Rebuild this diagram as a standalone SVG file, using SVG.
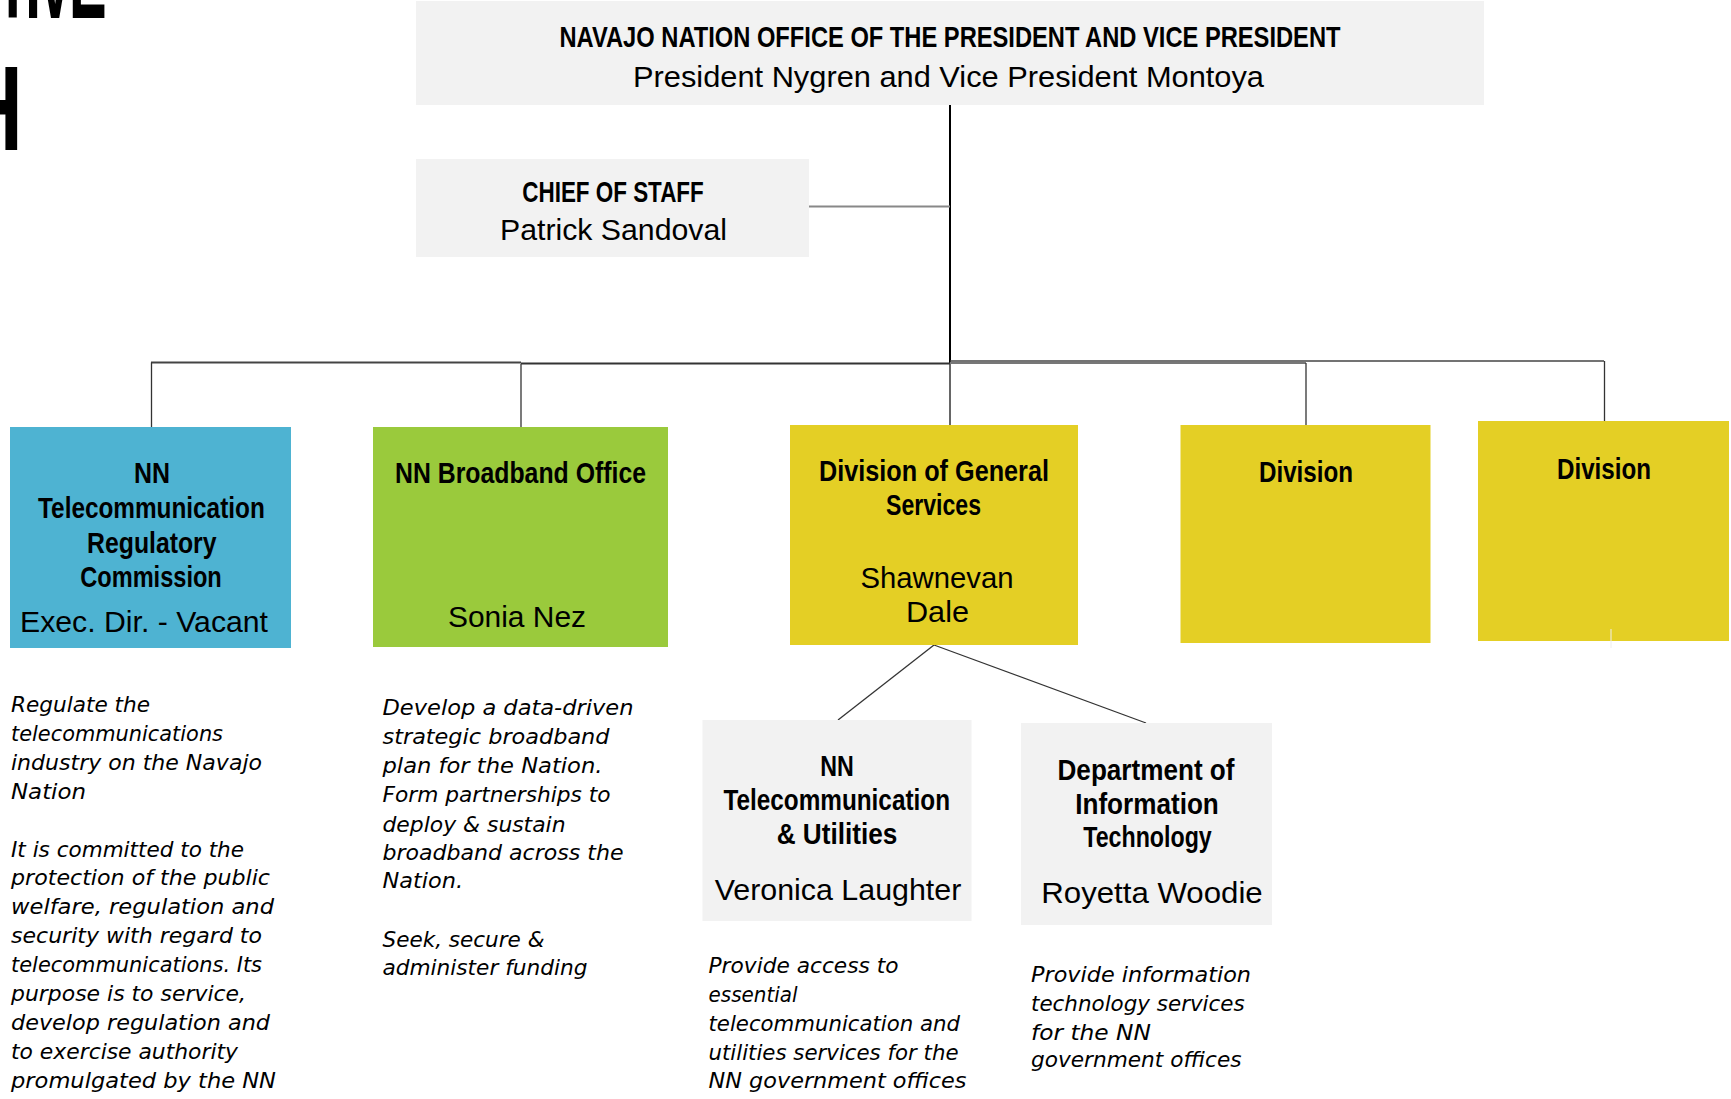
<svg xmlns="http://www.w3.org/2000/svg" width="1731" height="1099" viewBox="0 0 1731 1099">
<style>
.hd{font-family:"Liberation Sans",Arial,sans-serif;font-weight:bold;font-size:30px;fill:#000;text-anchor:middle}
.nm{font-family:"Liberation Sans",Arial,sans-serif;font-size:30px;fill:#000;text-anchor:middle}
.ds{font-family:"DejaVu Sans","Liberation Sans",sans-serif;font-style:italic;font-size:21px;fill:#000}
.big{font-family:"Liberation Sans",Arial,sans-serif;font-weight:bold;font-size:120px;fill:#000;text-anchor:end}
.gray{fill:#f2f2f2}
.blue{fill:#4eb3d2}
.green{fill:#9aca3c}
.yellow{fill:#e4cf25}
.ln{stroke:#333;stroke-width:1.3;fill:none}
</style>
<rect width="1731" height="1099" fill="#fff"/>

<g id="page-title">
<g transform="translate(102,18) scale(0.47,1)"><text class="big" x="0" y="0" letter-spacing="-10">EXECUTIVE</text></g>
<g transform="translate(22.7,150) scale(0.68,1)"><text class="big" x="0" y="0">BRANCH</text></g>
</g>

<g id="connectors">
<line x1="950" y1="105" x2="950" y2="363" stroke="#000" stroke-width="2"/>
<line x1="950" y1="363" x2="950" y2="425" stroke="#333" stroke-width="1.5"/>
<line x1="809" y1="206.5" x2="950" y2="206.5" stroke="#888" stroke-width="1.8"/>
<line x1="151" y1="362.5" x2="521" y2="362.5" stroke="#444" stroke-width="1.8"/>
<line x1="521" y1="363.5" x2="950" y2="363.5" stroke="#333" stroke-width="1.8"/>
<line x1="950" y1="361" x2="1604" y2="361" stroke="#444" stroke-width="1.3"/>
<line x1="950" y1="363" x2="1306" y2="363" stroke="#777" stroke-width="1.8"/>
<line class="ln" x1="151.5" y1="362.5" x2="151.5" y2="427"/>
<line class="ln" x1="521" y1="364" x2="521" y2="427"/>
<line class="ln" x1="1306" y1="363" x2="1306" y2="425"/>
<line class="ln" x1="1604.5" y1="361" x2="1604.5" y2="421"/>
<line class="ln" x1="934" y1="645" x2="838" y2="720"/>
<line class="ln" x1="934" y1="645" x2="1146" y2="723"/>
</g>

<g id="president">
<rect class="gray" x="416" y="1" width="1068" height="104"/>
<text class="hd" x="950" y="46.5" textLength="781" lengthAdjust="spacingAndGlyphs">NAVAJO NATION OFFICE OF THE PRESIDENT AND VICE PRESIDENT</text>
<text class="nm" x="948.5" y="87" font-size="29" textLength="631" lengthAdjust="spacingAndGlyphs">President Nygren and Vice President Montoya</text>
</g>

<g id="chief-of-staff">
<rect class="gray" x="416" y="159" width="393" height="98"/>
<text class="hd" x="613" y="201.7" textLength="181.5" lengthAdjust="spacingAndGlyphs">CHIEF OF STAFF</text>
<text class="nm" x="613.5" y="240" font-size="31" textLength="227" lengthAdjust="spacingAndGlyphs">Patrick Sandoval</text>
</g>

<g id="nntrc">
<rect class="blue" x="10" y="427" width="281" height="221"/>
<text class="hd" x="152" y="483.3" textLength="36" lengthAdjust="spacingAndGlyphs">NN</text>
<text class="hd" x="151.4" y="518.3" textLength="226.7" lengthAdjust="spacingAndGlyphs">Telecommunication</text>
<text class="hd" x="151.8" y="553" textLength="129.5" lengthAdjust="spacingAndGlyphs">Regulatory</text>
<text class="hd" x="151" y="586.7" textLength="141.5" lengthAdjust="spacingAndGlyphs">Commission</text>
<text class="nm" x="144" y="631.7" textLength="248" lengthAdjust="spacingAndGlyphs">Exec. Dir. - Vacant</text>
</g>

<g id="broadband">
<rect class="green" x="373" y="427" width="295" height="220"/>
<text class="hd" x="520.5" y="483.3" textLength="251" lengthAdjust="spacingAndGlyphs">NN Broadband Office</text>
<text class="nm" x="517" y="626.7" textLength="138" lengthAdjust="spacingAndGlyphs">Sonia Nez</text>
</g>

<g id="general-services">
<rect class="yellow" x="790" y="425" width="288" height="220"/>
<text class="hd" x="934" y="481" textLength="230" lengthAdjust="spacingAndGlyphs">Division of General</text>
<text class="hd" x="933.5" y="515" textLength="95" lengthAdjust="spacingAndGlyphs">Services</text>
<text class="nm" x="937" y="588" textLength="153" lengthAdjust="spacingAndGlyphs">Shawnevan</text>
<text class="nm" x="937.5" y="621.7" textLength="63" lengthAdjust="spacingAndGlyphs">Dale</text>
</g>

<g id="division-1">
<rect class="yellow" x="1180.5" y="425" width="250" height="218"/>
<text class="hd" x="1306" y="481.7" textLength="94" lengthAdjust="spacingAndGlyphs">Division</text>
</g>

<g id="division-2">
<rect class="yellow" x="1478" y="421" width="251" height="220"/>
<text class="hd" x="1604" y="479" textLength="94" lengthAdjust="spacingAndGlyphs">Division</text>
<line x1="1611" y1="629" x2="1611" y2="648" stroke="#eee" stroke-width="1"/>
</g>

<g id="telecom-utilities">
<rect class="gray" x="702.5" y="720" width="269" height="201"/>
<text class="hd" x="837" y="776" textLength="33.6" lengthAdjust="spacingAndGlyphs">NN</text>
<text class="hd" x="836.7" y="810" textLength="226.6" lengthAdjust="spacingAndGlyphs">Telecommunication</text>
<text class="hd" x="837" y="844" textLength="120.6" lengthAdjust="spacingAndGlyphs">&amp; Utilities</text>
<text class="nm" x="838" y="900" textLength="246.7" lengthAdjust="spacingAndGlyphs">Veronica Laughter</text>
</g>

<g id="info-tech">
<rect class="gray" x="1021" y="723" width="251" height="202"/>
<text class="hd" x="1146" y="780" textLength="177" lengthAdjust="spacingAndGlyphs">Department of</text>
<text class="hd" x="1147" y="814" textLength="143.6" lengthAdjust="spacingAndGlyphs">Information</text>
<text class="hd" x="1147.5" y="847" textLength="128.5" lengthAdjust="spacingAndGlyphs">Technology</text>
<text class="nm" x="1152" y="903" textLength="221.4" lengthAdjust="spacingAndGlyphs">Royetta Woodie</text>
</g>

<g id="desc-nntrc">
<text class="ds" x="11" y="711.7" textLength="139" lengthAdjust="spacingAndGlyphs">Regulate the</text>
<text class="ds" x="11" y="740.6" textLength="212" lengthAdjust="spacingAndGlyphs">telecommunications</text>
<text class="ds" x="11" y="769.6" textLength="251" lengthAdjust="spacingAndGlyphs">industry on the Navajo</text>
<text class="ds" x="11" y="798.5" textLength="75" lengthAdjust="spacingAndGlyphs">Nation</text>
<text class="ds" x="11" y="856.5" textLength="233" lengthAdjust="spacingAndGlyphs">It is committed to the</text>
<text class="ds" x="11" y="885.4" textLength="259" lengthAdjust="spacingAndGlyphs">protection of the public</text>
<text class="ds" x="11" y="914.4" textLength="263" lengthAdjust="spacingAndGlyphs">welfare, regulation and</text>
<text class="ds" x="11" y="943.3" textLength="251" lengthAdjust="spacingAndGlyphs">security with regard to</text>
<text class="ds" x="11" y="972.3" textLength="251" lengthAdjust="spacingAndGlyphs">telecommunications. Its</text>
<text class="ds" x="11" y="1001.2" textLength="235" lengthAdjust="spacingAndGlyphs">purpose is to service,</text>
<text class="ds" x="11" y="1030.2" textLength="259" lengthAdjust="spacingAndGlyphs">develop regulation and</text>
<text class="ds" x="11" y="1059.1" textLength="227" lengthAdjust="spacingAndGlyphs">to exercise authority</text>
<text class="ds" x="11" y="1088" textLength="265" lengthAdjust="spacingAndGlyphs">promulgated by the NN</text>
</g>

<g id="desc-broadband">
<text class="ds" x="382.5" y="715" textLength="251" lengthAdjust="spacingAndGlyphs">Develop a data-driven</text>
<text class="ds" x="382.5" y="744" textLength="227" lengthAdjust="spacingAndGlyphs">strategic broadband</text>
<text class="ds" x="382.5" y="773.3" textLength="220" lengthAdjust="spacingAndGlyphs">plan for the Nation.</text>
<text class="ds" x="382.5" y="802.3" textLength="228" lengthAdjust="spacingAndGlyphs">Form partnerships to</text>
<text class="ds" x="382.5" y="831.7" textLength="183" lengthAdjust="spacingAndGlyphs">deploy &amp; sustain</text>
<text class="ds" x="382.5" y="860" textLength="241" lengthAdjust="spacingAndGlyphs">broadband across the</text>
<text class="ds" x="382.5" y="888.3" textLength="80.6" lengthAdjust="spacingAndGlyphs">Nation.</text>
<text class="ds" x="382.5" y="946.7" textLength="162" lengthAdjust="spacingAndGlyphs">Seek, secure &amp;</text>
<text class="ds" x="382.5" y="975" textLength="205" lengthAdjust="spacingAndGlyphs">administer funding</text>
</g>

<g id="desc-telecom-utilities">
<text class="ds" x="708.5" y="973" textLength="190" lengthAdjust="spacingAndGlyphs">Provide access to</text>
<text class="ds" x="708.5" y="1002" textLength="89" lengthAdjust="spacingAndGlyphs">essential</text>
<text class="ds" x="708.5" y="1031" textLength="251.5" lengthAdjust="spacingAndGlyphs">telecommunication and</text>
<text class="ds" x="708.5" y="1060" textLength="250" lengthAdjust="spacingAndGlyphs">utilities services for the</text>
<text class="ds" x="708.5" y="1088" textLength="258" lengthAdjust="spacingAndGlyphs">NN government offices</text>
</g>

<g id="desc-info-tech">
<text class="ds" x="1031" y="981.7" textLength="220" lengthAdjust="spacingAndGlyphs">Provide information</text>
<text class="ds" x="1031" y="1010.7" textLength="213.7" lengthAdjust="spacingAndGlyphs">technology services</text>
<text class="ds" x="1031" y="1039.5" textLength="120" lengthAdjust="spacingAndGlyphs">for the NN</text>
<text class="ds" x="1031" y="1067" textLength="210.5" lengthAdjust="spacingAndGlyphs">government offices</text>
</g>
</svg>
